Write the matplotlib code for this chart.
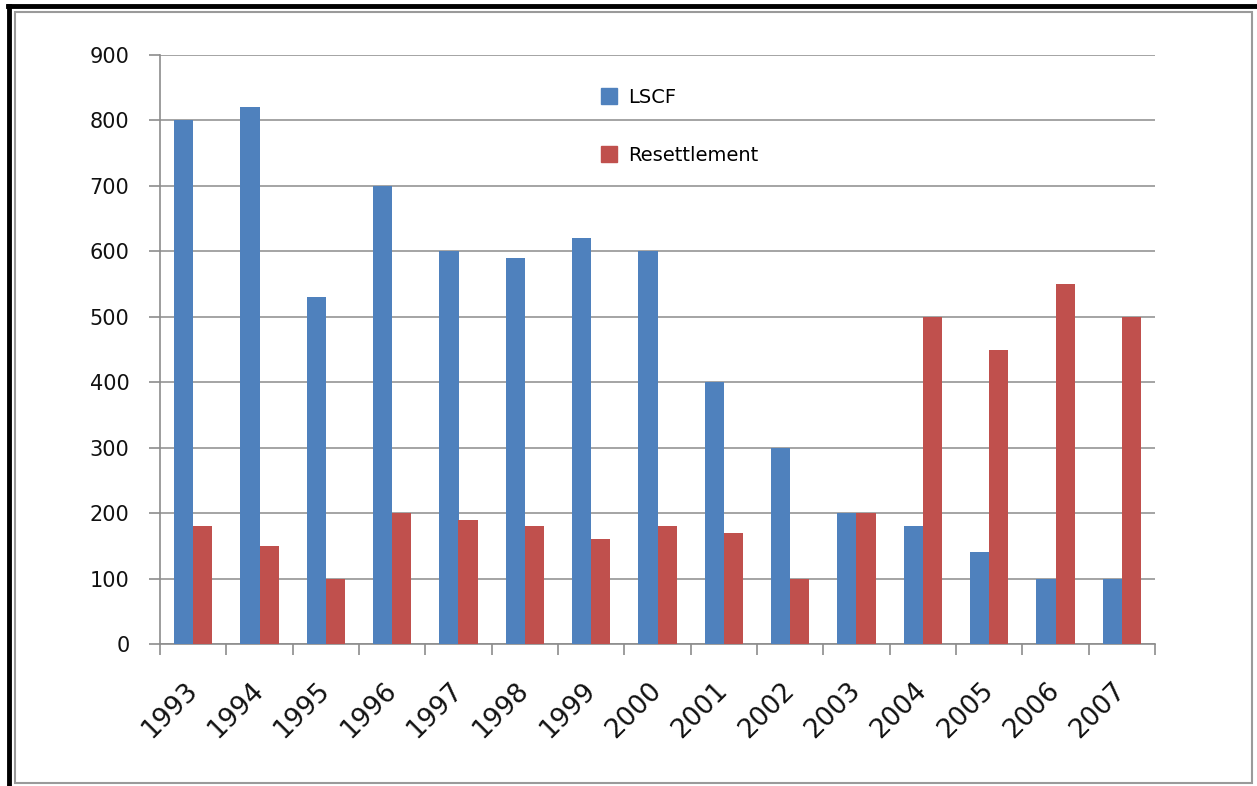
import numpy as np
import matplotlib
matplotlib.use("Agg")
import matplotlib.pyplot as plt
from matplotlib.lines import Line2D
from matplotlib.patches import Rectangle

years = ["1993", "1994", "1995", "1996", "1997", "1998", "1999", "2000",
         "2001", "2002", "2003", "2004", "2005", "2006", "2007"]
lscf = [800, 820, 530, 700, 600, 590, 620, 600, 400, 300, 200, 180, 140, 100, 100]
resettlement = [180, 150, 100, 200, 190, 180, 160, 180, 170, 100, 200, 500, 450, 550, 500]

BLUE = "#4F81BD"
RED = "#C0504D"
GRID = "#8C8C8C"

plt.rcParams["font.family"] = ["DejaVu Sans"]

W, H = 1257, 786
fig = plt.figure(figsize=(W / 100, H / 100), dpi=100)
ax = fig.add_axes([160 / W, 1 - 644 / H, (1155 - 160) / W, (644 - 55) / H])

x = np.arange(len(years))
bw = 0.29
ax.bar(x - bw / 2, lscf, width=bw, color=BLUE, label="LSCF", zorder=3)
ax.bar(x + bw / 2, resettlement, width=bw, color=RED, label="Resettlement", zorder=3)

ax.set_xlim(-0.5, len(years) - 0.5)
ax.set_ylim(0, 900)
ax.set_yticks(range(0, 901, 100))
ax.grid(axis="y", color=GRID, linewidth=1.1, zorder=0)

# category labels at centres, tick marks on boundaries
ax.set_xticks(x)
ax.set_xticklabels(years, rotation=45, ha="right", va="center",
                   rotation_mode="anchor", fontsize=19, color="#111111")
ax.set_xticks(np.arange(-0.5, len(years)), minor=True)
ax.tick_params(axis="x", which="major", length=0, pad=31)
ax.tick_params(axis="x", which="minor", length=8, width=1.2, color=GRID, direction="out")
ax.tick_params(axis="y", length=8, width=1.2, color=GRID, labelsize=15,
               labelcolor="#111111", pad=14)

for s in ["top", "right"]:
    ax.spines[s].set_visible(False)
for s in ["left", "bottom"]:
    ax.spines[s].set_color(GRID)
    ax.spines[s].set_linewidth(1.2)

handles = [Line2D([], [], marker="s", linestyle="none", markersize=11,
                  markerfacecolor=BLUE, markeredgecolor=BLUE),
           Line2D([], [], marker="s", linestyle="none", markersize=11,
                  markerfacecolor=RED, markeredgecolor=RED)]
leg = ax.legend(handles, ["LSCF", "Resettlement"], loc="upper left",
                bbox_to_anchor=((590 - 160) / (1155 - 160), 1 - (80 - 55) / (644 - 55)),
                frameon=False, fontsize=14, labelspacing=2.0,
                handletextpad=0.35, handlelength=1.2, borderaxespad=0)

# outer frame
fig.patches.append(Rectangle((15 / W, 1 - 783 / H), (1252 - 15) / W, (783 - 12) / H,
                             transform=fig.transFigure, fill=False,
                             edgecolor="#9A9A9A", linewidth=1.5))
fig.lines.append(Line2D([8 / W, 1], [1 - 5.5 / H, 1 - 5.5 / H],
                        transform=fig.transFigure, color="black", linewidth=3.5))
fig.lines.append(Line2D([8.5 / W, 8.5 / W], [0, 1 - 5.5 / H],
                        transform=fig.transFigure, color="black", linewidth=3.5))

fig.savefig("out.png", dpi=100)
